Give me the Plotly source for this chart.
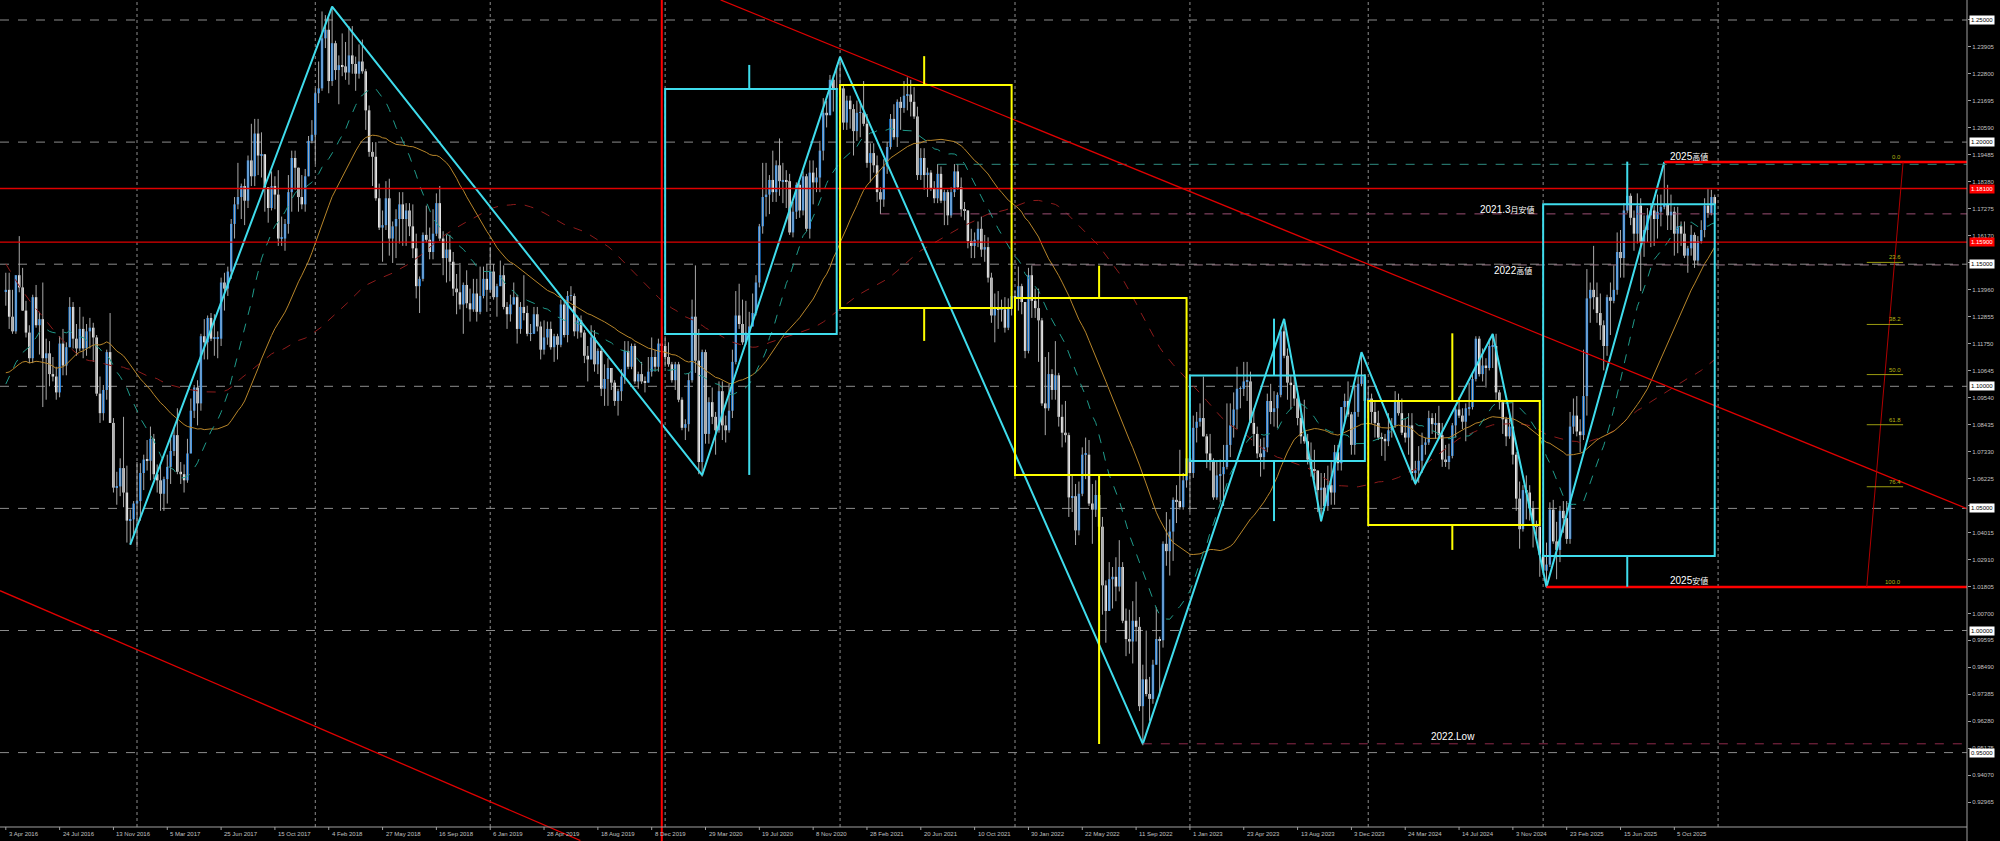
import plotly.graph_objects as go
import pandas as pd

# ================= DATA (weekly EUR/USD, Sunday-dated weekly bars) =================
# closes in price*10000 ; pre-history only feeds the moving averages
pre_2014 = [13870,13695,13725,13635, 13640,13540,13600,13645,13605, 13605,13525,13430,13425,
            13410,13400,13240,13130,12950, 12965,12830,12685,12520, 12625,12760,12670,12525,
            12455,12525,12390,12450,12290, 12460,12225,12160,12000]
pre_2015 = [11840,11565,11205,11290, 11315,11390,11380,11195, 10840,10495,10825,10890,10970,
            10600,10805,10870,11200, 11200,11450,11015,10985,11110, 11265,11350,11165,11105,
            11160,10830,10985,10985, 10970,11105,11385,11185,11150, 11340,11295,11195,11210,
            11360,11345,11015,11005, 10740,10770,10645,10590,10885, 10990,10865,10965,10860]
pre_2016 = [10925,10915,10795,10830, 11155,11255,11130,11020, 10995,11150,11270,11165,11390]

first_open = 11390
close_2016 = [11395,11285,11225,11455, 11405,11310,11220,11115,11365, 11250,11275,11115,11135,
              11050,11040,10975,11175,11085, 11160,11325,11195,11155, 11235,11155,11225,11240,
              11200,10970,10890,10985,11140, 10850,10585,10590,10665, 10565,10450,10455,10520]
close_2017 = [10530,10645,10700,10695,10785, 10640,10615,10560,10620, 10670,10735,10800,10650,
              10640,10615,10725,10900,10995, 10930,11205,11180,11280, 11195,11195,11195,11425,
              11400,11470,11665,11745,11775, 11820,11760,11925,11860, 12035,11945,11950,11815,
              11730,11820,11785,11605,11605, 11665,11795,11935,11895, 11775,11745,11860,12005,12030]
close_2018 = [12200,12220,12425,12460, 12250,12405,12295,12315, 12310,12285,12355,12320,
              12280,12330,12290,12130,11960, 11940,11770,11650,11660, 11770,11605,11655,11685,
              11745,11685,11720,11655,11565, 11410,11440,11620,11600, 11550,11625,11750,11605,11525,
              11560,11510,11400,11385, 11335,11415,11340,11315, 11380,11305,11370,11440,11395]
close_2019 = [11470,11365,11410,11455, 11325,11295,11335,11365, 11235,11325,11300,11215,11215,
              11295,11245,11150,11200, 11235,11160,11205,11170, 11335,11210,11370,11370,11225,
              11270,11220,11125,11110, 11200,11090,11145,10990, 11030,11075,11015,10940,10980,
              11040,11145,11080,11165, 11020,11050,11020,11015, 11060,11120,11080,11175,11165]
close_2020 = [11120,11090,11025,11090, 10945,10830,10845,11025, 11285,11105,10690,11140,10805,
              10935,10875,10820,10980, 10840,10820,10900,11100,11290, 11255,11180,11220,11245,
              11300,11425,11655,11775, 11785,11845,11795,11905,11840, 11845,11840,11630,11715,
              11825,11720,11860,11645, 11875,11835,11855,11965,12120, 12110,12255,12215,12215]
close_2021 = [12220,12080,12170,12135,12045, 12120,12120,12075,11915, 11955,11905,11795,11765,
              11900,11980,12095,12020, 12165,12140,12190,12195,12165, 12105,11865,11935,11865,
              11875,11810,11770,11870, 11760,11795,11700,11795,11880, 11815,11725,11720,11595,
              11575,11600,11645,11560,11570, 11445,11290,11320,11315, 11315,11240,11320,11370]
close_2022 = [11360,11410,11345,11145,11455, 11350,11320,11270,10930, 10910,11050,10985,11045,
              10875,10810,10800,10545, 10550,10410,10560,10720,10720, 10520,10495,10555,10425,
              10185,10080,10210,10220,10180, 10260,10040,9965,9955, 10040,10015,9690,9800,
              9740,9720,9860,9965,9960, 10355,10325,10405,10535, 10530,10505,10615,10705]
close_2023 = [10645,10830,10855,10870,10795, 10725,10695,10545,10635, 10640,10670,10760,10840,
              10905,10990,10990,11020,11020, 10850,10805,10725,10710, 10750,10940,10895,10910,
              10965,11225,11125,11015,11005, 10950,10870,10795,10775, 10700,10660,10655,10575,
              10585,10510,10595,10565,10730, 10685,10915,10940,10885, 10760,10895,11010,11040,10940]
close_2024 = [10950,10895,10850,10790, 10785,10775,10820,10840, 10940,10890,10810,10790,10840,
              10645,10655,10695,10760, 10770,10870,10845,10850, 10800,10700,10690,10715,10840,
              10905,10880,10855,10910, 10915,11030,11195,11050, 11085,11075,11165,11165,10975,
              10935,10865,10795,10835, 10720,10540,10415,10575, 10565,10500,10430,10425,10310]
close_2025 = [10245,10270,10495,10365, 10330,10490,10460,10375, 10835,10880,10815,10800,10960,
              11360,11395,11365,11300, 11250,11165,11365,11350, 11395,11550,11525,11720,11780,
              11690,11625,11740,11590, 11640,11700,11720,11685,11715, 11735,11745,11700,11715,
              11625,11655,11625,11535, 11565,11620,11515,11595,11640, 11740,11710,11775,11745]

# wick lengths beyond the body (units of 0.001)
up_2016 = [7,7,11,0,16,8,4,3,1,5,3,15,6,5,7,4,3,6,2,4,2,6,9,5,3,4,2,1,7,2,1,16,2,6,4,21,11,4,1]
dn_2016 = [6,5,1,1,2,0,2,2,2,1,12,20,17,5,2,3,2,4,4,0,4,3,1,4,3,7,10,1,4,3,4,0,2,7,4,6,9,10,6]
up_2017 = [16,4,2,8,5,2,4,7,1,5,5,3,11,4,4,6,5,1,3,1,7,1,2,10,3,2,4,2,2,3,14,1,3,2,15,6,6,9,0,0,
           6,4,10,9,2,7,3,3,0,9,3,2,6]
dn_2017 = [18,8,7,4,8,2,5,7,7,10,7,2,1,4,5,1,0,3,9,3,7,7,1,7,8,3,9,3,3,6,2,9,10,3,4,4,8,9,10,6,
           1,6,3,3,5,4,8,9,6,2,3,0,1]
up_2018 = [2,11,11,6,5,15,1,4,13,10,12,12,3,7,9,1,2,4,6,6,6,7,8,2,4,5,5,3,3,9,6,1,1,12,5,10,4,7,3,6,
           6,4,6,12,1,6,6,6,6,12,5,6]
dn_2018 = [12,4,1,4,5,2,4,14,4,3,5,4,7,2,1,8,2,12,1,1,14,2,7,10,13,10,11,11,4,4,5,11,1,1,3,3,1,1,7,10,
           8,3,9,2,12,2,5,1,4,1,1,9]
up_2019 = [10,3,1,6,4,2,4,6,1,2,13,3,4,3,3,2,7,3,3,1,1,2,2,2,4,1,2,2,1,4,5,3,1,2,6,4,0,1,1,3,
           4,4,1,1,1,5,2,6,8,3,2,7]
dn_2019 = [1,1,8,0,1,6,3,0,6,2,3,1,3,0,2,4,2,3,1,6,6,1,1,3,2,2,3,2,3,9,0,3,4,3,7,11,3,2,6,4,
           3,1,1,1,3,1,4,0,2,2,2,4]
up_2020 = [4,6,1,1,1,1,2,3,7,21,13,1,1,2,6,2,4,4,4,11,5,10,13,10,13,6,8,3,1,14,13,2,12,2,11,7,4,3,4,1,
           1,2,1,5,5,4,4,6,5,2,2,10]
dn_2020 = [4,1,1,4,1,1,5,3,1,5,5,6,4,4,3,10,1,6,5,1,3,1,2,1,1,3,0,1,2,3,8,8,4,4,6,9,11,1,2,3,
           3,2,1,4,9,4,6,4,5,0,9,3]
up_2021 = [13,1,2,2,2,5,5,13,4,4,4,4,2,3,2,2,6,1,2,6,7,6,6,4,4,4,2,1,3,4,3,1,1,2,3,3,4,3,0,5,
           3,3,5,5,4,2,6,7,4,5,4,2]
dn_2021 = [2,3,3,8,10,4,10,1,2,8,3,4,6,3,3,1,1,4,9,2,6,6,1,2,2,6,9,1,2,2,1,10,4,1,2,1,3,4,3,5,
           5,3,3,5,2,3,11,8,5,2,1,3]
up_2022 = [2,8,1,0,3,4,5,8,1,19,9,2,14,1,5,13,1,9,5,5,3,7,6,8,6,6,4,2,7,4,8,11,2,5,12,8,16,4,6,20,
           7,2,13,1,1,13,5,1,6,21,3,1]
dn_2022 = [9,5,5,3,1,7,4,17,1,11,1,4,4,4,6,3,8,6,6,2,1,10,1,14,3,6,12,13,0,12,6,2,1,7,5,9,6,2,16,1,
           9,2,0,23,3,6,10,12,9,1,1,3]
up_2023 = [1,5,4,6,17,1,8,1,6,6,9,17,9,7,9,1,8,8,4,6,3,6,4,3,7,7,1,2,5,3,3,6,2,6,15,3,7,8,0,6,
           6,8,10,3,3,0,3,8,1,11,3,10,1]
dn_2023 = [16,2,6,2,0,6,4,1,1,11,13,1,5,5,8,8,3,8,0,5,2,8,5,2,5,6,8,1,1,7,10,3,3,3,1,2,3,4,9,13,
           2,2,5,5,3,3,7,1,4,4,2,1,7]
up_2024 = [5,2,4,5,2,2,7,3,4,3,6,6,5,5,4,6,5,2,3,2,4,7,5,6,5,1,1,5,3,2,10,2,1,1,7,3,3,5,5,1,
           1,1,7,10,1,7,2,6,3,3,2,3]
dn_2024 = [7,5,6,1,7,8,2,3,1,1,1,2,7,3,5,5,5,4,1,4,6,1,3,2,3,1,5,1,3,8,3,1,1,1,3,8,1,9,3,3,
           6,4,1,4,5,8,1,11,5,9,4,9]
up_2025 = [13,9,3,4,8,2,4,7,6,7,8,5,19,12,3,18,6,8,2,1,6,10,8,9,3,5,1,3,5,3,6,3,3,2,7,5,17,8,7,2,
           8,2,5,1,4,1,2,4,3,7,3,1]
dn_2025 = [1,7,1,1,12,5,6,2,2,3,2,7,2,8,10,5,4,6,10,4,14,1,2,8,8,1,3,7,4,20,6,5,13,11,8,6,1,6,6,9,
           8,5,1,7,3,3,2,1,3,2,1,2]

# time-axis labels (one every 16 weekly bars, starting at bar 0 = 3 Apr 2016)
date_labels = ["3 Apr 2016","24 Jul 2016","13 Nov 2016","5 Mar 2017","25 Jun 2017","15 Oct 2017",
               "4 Feb 2018","27 May 2018","16 Sep 2018","6 Jan 2019","28 Apr 2019","18 Aug 2019",
               "8 Dec 2019","29 Mar 2020","19 Jul 2020","8 Nov 2020","28 Feb 2021","20 Jun 2021",
               "10 Oct 2021","30 Jan 2022","22 May 2022","11 Sep 2022","1 Jan 2023","23 Apr 2023",
               "13 Aug 2023","3 Dec 2023","24 Mar 2024","14 Jul 2024","3 Nov 2024","23 Feb 2025",
               "15 Jun 2025","5 Oct 2025"]
date_label_bars = [16 * k for k in range(len(date_labels))]
price_tick_text = ["1.25010","1.23905","1.22800","1.21695","1.20590","1.19485","1.18380","1.17275",
                   "1.16170","1.15065","1.13960","1.12855","1.11750","1.10645","1.09540","1.08435",
                   "1.07330","1.06225","1.05120","1.04015","1.02910","1.01805","1.00700","0.99595",
                   "0.98490","0.97385","0.96280","0.95175","0.94070","0.92965"]
round_levels = [1.25, 1.20, 1.15, 1.10, 1.05, 1.00, 0.95]
round_level_text = ["1.25000","1.20000","1.15000","1.10000","1.05000","1.00000","0.95000"]
red_levels = [1.1810, 1.1590]
red_level_text = ["1.18100", "1.15900"]
year_start_bars = [39, 92, 144, 196, 248, 300, 352, 405, 457, 509]

# yearly candles drawn as boxes
ybox_start = [196, 248, 300, 352, 405, 457]
ybox_end = [247, 299, 351, 404, 456, 508]
ybox_mid = [221, 273, 325, 377, 430, 482]
ybox_open = [1.1214, 1.2234, 1.1362, 1.0694, 1.0940, 1.0305]
ybox_close = [1.2217, 1.1321, 1.0637, 1.1044, 1.0432, 1.1745]
ybox_high = [1.2316, 1.2352, 1.1494, 1.1277, 1.1217, 1.1920]
ybox_low = [1.0637, 1.1186, 0.9535, 1.0448, 1.0330, 1.0179]

zigzag_bar = [37, 97, 207, 248, 338, 380, 391, 403, 419, 442, 458, 493]
zigzag_price = [1.0352, 1.2555, 1.0636, 1.2349, 0.9536, 1.1276, 1.0448, 1.1140, 1.0601, 1.1214, 1.0178, 1.1918]

trend_upper_bar = [212.5, 583.0]
trend_upper_price = [1.2582, 1.0499]
trend_lower_bar = [-1.72, 170.8]
trend_lower_price = [1.0163, 0.9140]
red_vline_bar = 195

high_2025 = 1.1918
low_2025 = 1.0178
jul2021_high = 1.1909
mar2021_low = 1.1706
high_2022 = 1.1497
low_2022 = 0.9536
fib_bar = [553.2, 564.0]
fib_levels = [0.0, 23.6, 38.2, 50.0, 61.8, 76.4, 100.0]

# ================= BUILD =================
close_years = [close_2016, close_2017, close_2018, close_2019, close_2020, close_2021,
               close_2022, close_2023, close_2024, close_2025]
up_years = [up_2016, up_2017, up_2018, up_2019, up_2020, up_2021, up_2022, up_2023, up_2024, up_2025]
dn_years = [dn_2016, dn_2017, dn_2018, dn_2019, dn_2020, dn_2021, dn_2022, dn_2023, dn_2024, dn_2025]
for a, b, c in zip(close_years, up_years, dn_years):
    assert len(a) == len(b) == len(c), (len(a), len(b), len(c))

closes = [v / 10000 for yr in close_years for v in yr]
ups = [v / 1000 for yr in up_years for v in yr]
dns = [v / 1000 for yr in dn_years for v in yr]
n = len(closes)
bars = list(range(n))
opens = [first_open / 10000] + closes[:-1]
highs = [max(o, c) + u for o, c, u in zip(opens, closes, ups)]
lows = [min(o, c) - d for o, c, d in zip(opens, closes, dns)]

pre = [v / 10000 for v in pre_2014 + pre_2015 + pre_2016]
s = pd.Series(pre + closes)
ma_fast = s.rolling(21).mean().iloc[len(pre):].tolist()
ma_mid = s.rolling(40).mean().iloc[len(pre):].tolist()
ma_slow = s.rolling(89).mean().iloc[len(pre):].tolist()

# pixel geometry of the reference (2000 x 841): bar i at x = 5.8 + 3.364 i ; price p at y = 20 + (1.25 - p) * 2442
W, H = 2000, 841
PLOT_R = 1967
BAR_W = 3.364
X0 = 5.8
XMIN = -X0 / BAR_W
XMAX = (PLOT_R - X0) / BAR_W
PX_PER_UNIT = 2442.0
YTOP = 1.25 + 20 / PX_PER_UNIT
YBOT = 1.25 - (H - 20) / PX_PER_UNIT
Y_TIMEAXIS = 1.25 - (827 - 20) / PX_PER_UNIT

BLUE = "#1e90ff"
WHITE = "#ffffff"
WICK = "#a9a9a9"
CYAN = "#3fdcec"
YELLOW = "#ffff00"
RED = "#ff0000"
GRID = "#8c8c8c"

fig = go.Figure()

bull = [i for i in bars if closes[i] >= opens[i]]
bear = [i for i in bars if closes[i] < opens[i]]

def wick_xy(ids):
    xs, ys = [], []
    for i in ids:
        xs += [i, i, None]
        ys += [lows[i], highs[i], None]
    return xs, ys

for ids, col in ((bull, WICK), (bear, WICK)):
    wx, wy = wick_xy(ids)
    fig.add_trace(go.Scatter(x=wx, y=wy, mode="lines", line=dict(color=col, width=1), hoverinfo="skip"))

for ids, col in ((bull, BLUE), (bear, WHITE)):
    fig.add_trace(go.Bar(
        x=ids,
        base=[min(opens[i], closes[i]) for i in ids],
        y=[max(abs(closes[i] - opens[i]), 0.0003) for i in ids],
        width=0.72, marker=dict(color=col, line=dict(width=0)), hoverinfo="skip"))

fig.add_trace(go.Scatter(x=bars, y=ma_slow, mode="lines", line=dict(color="#8e1b1b", width=1, dash="dash"), hoverinfo="skip"))
fig.add_trace(go.Scatter(x=bars, y=ma_mid, mode="lines", line=dict(color="#b8862a", width=1), hoverinfo="skip"))
fig.add_trace(go.Scatter(x=bars, y=ma_fast, mode="lines", line=dict(color="#1f9a8a", width=1, dash="dash"), hoverinfo="skip"))

fig.add_trace(go.Scatter(x=zigzag_bar, y=zigzag_price, mode="lines", line=dict(color=CYAN, width=2), hoverinfo="skip"))

shapes = []

def line(x0, y0, x1, y1, color, width=1, dash="solid", layer="above", xref="x", yref="y"):
    shapes.append(dict(type="line", xref=xref, yref=yref, x0=x0, y0=y0, x1=x1, y1=y1,
                       line=dict(color=color, width=width, dash=dash), layer=layer))

# grid
for b in year_start_bars:
    line(b, Y_TIMEAXIS, b, YTOP, GRID, 1, "dot", "below")
for lv in round_levels:
    line(XMIN, lv, XMAX, lv, GRID, 1, "dash", "below")

# labelled levels
line(277, jul2021_high, XMAX, jul2021_high, "#2e8b80", 1, "dash")
line(260, mar2021_low, XMAX, mar2021_low, "#9a4f74", 1, "dash")
line(305, high_2022, XMAX, high_2022, "#9a7a8a", 1, "dash")
line(338, low_2022, XMAX, low_2022, "#8e2a4a", 1, "dash")
for lv in red_levels:
    line(XMIN, lv, XMAX, lv, "#e00000", 1.3)
line(493, high_2025, XMAX, high_2025, RED, 2.5)
line(458, low_2025, XMAX, low_2025, RED, 2.5)

# trend lines
line(trend_upper_bar[0], trend_upper_price[0], trend_upper_bar[1], trend_upper_price[1], "#e00000", 1.3)
line(trend_lower_bar[0], trend_lower_price[0], trend_lower_bar[1], trend_lower_price[1], "#e00000", 1.3)
line(red_vline_bar, 0, red_vline_bar, 1, RED, 2, yref="paper")

# yearly boxes
for s0, s1, m, o, c, h, l in zip(ybox_start, ybox_end, ybox_mid, ybox_open, ybox_close, ybox_high, ybox_low):
    col = CYAN if c > o else YELLOW
    shapes.append(dict(type="rect", xref="x", yref="y", x0=s0, x1=s1, y0=min(o, c), y1=max(o, c),
                       line=dict(color=col, width=2), fillcolor="rgba(0,0,0,0)", layer="above"))
    line(m, max(o, c), m, h, col, 2)
    line(m, min(o, c), m, l, col, 2)

# fibonacci
line(fib_bar[0], low_2025, fib_bar[1], high_2025, "#b00000", 1)
for lv in fib_levels:
    p = high_2025 - lv / 100 * (high_2025 - low_2025)
    if 0 < lv < 100:
        line(fib_bar[0], p, fib_bar[1], p, "#9c9c10", 1)

# axes frame
line(0, 0, 0, 1, "#a0a0a0", 1, xref="paper", yref="paper")
shapes[-1].update(x0=PLOT_R / W, x1=PLOT_R / W)
line(XMIN, Y_TIMEAXIS, XMAX, Y_TIMEAXIS, "#a0a0a0", 1)
for b in date_label_bars:
    line(b, Y_TIMEAXIS, b, Y_TIMEAXIS - 3 / PX_PER_UNIT, "#a0a0a0", 1)

annotations = []
AX_FONT = dict(family="Liberation Sans, Arial", size=6, color="#c0c0c0")
for b, t in zip(date_label_bars, date_labels):
    annotations.append(dict(x=b, y=(H - 834) / H, xref="x", yref="paper", text=t, showarrow=False,
                            xanchor="left", yanchor="middle", xshift=1, font=AX_FONT))
for lv, t in zip(round_levels, round_level_text):
    annotations.append(dict(x=1969 / W, y=lv, xref="paper", yref="y", text=t, showarrow=False,
                            xanchor="left", yanchor="middle", bgcolor="#ffffff", borderpad=1,
                            font=dict(family="Liberation Sans, Arial", size=6, color="#000000")))
for lv, t in zip(red_levels, red_level_text):
    annotations.append(dict(x=1969 / W, y=lv, xref="paper", yref="y", text=t, showarrow=False,
                            xanchor="left", yanchor="middle", bgcolor="#ff0000", borderpad=1,
                            font=dict(family="Liberation Sans, Arial", size=6, color="#ffffff")))

LBL = dict(family="Liberation Sans, Noto Sans CJK JP", size=10, color="#ffffff")
def cjk(a, b):
    return a + "<span style='font-size:8px'>" + b + "</span>"
text_labels = [
    (cjk("2025", "高値"), 494.0, 1.1943, "left"),
    (cjk("2021.3", "月安値"), 455.2, 1.1726, "right"),
    (cjk("2022", "高値"), 454.3, 1.1476, "right"),
    (cjk("2025", "安値"), 494.1, 1.0203, "left"),
    ("2022.Low", 423.1, 0.9564, "left"),
]
for t, x, y, anc in text_labels:
    annotations.append(dict(x=x, y=y, xref="x", yref="y", text=t, showarrow=False,
                            xanchor=anc, yanchor="middle", font=LBL))
for lv in fib_levels:
    p = high_2025 - lv / 100 * (high_2025 - low_2025)
    annotations.append(dict(x=fib_bar[1], y=p, xref="x", yref="y", text=f"{lv:.1f}", showarrow=False,
                            xanchor="right", yanchor="bottom", yshift=0,
                            font=dict(family="Liberation Sans, Arial", size=6, color="#b4b414")))

fig.update_layout(
    width=W, height=H, margin=dict(l=0, r=0, t=0, b=0),
    paper_bgcolor="#000000", plot_bgcolor="#000000",
    showlegend=False, hovermode=False, barmode="overlay",
    shapes=shapes, annotations=annotations,
    xaxis=dict(domain=[0, PLOT_R / W], range=[XMIN, XMAX], showgrid=False, zeroline=False,
               showticklabels=False, showline=False, ticks=""),
    yaxis=dict(domain=[0, 1], range=[YBOT, YTOP], side="right", showgrid=False, zeroline=False,
               showline=False, tickvals=[float(t) for t in price_tick_text], ticktext=price_tick_text,
               ticks="outside", ticklen=3, tickcolor="#a0a0a0", tickfont=AX_FONT),
)

fig.write_html("out.html", config={"displayModeBar": False},
               post_script="document.body.style.margin='0px';document.body.style.background='#000';")
